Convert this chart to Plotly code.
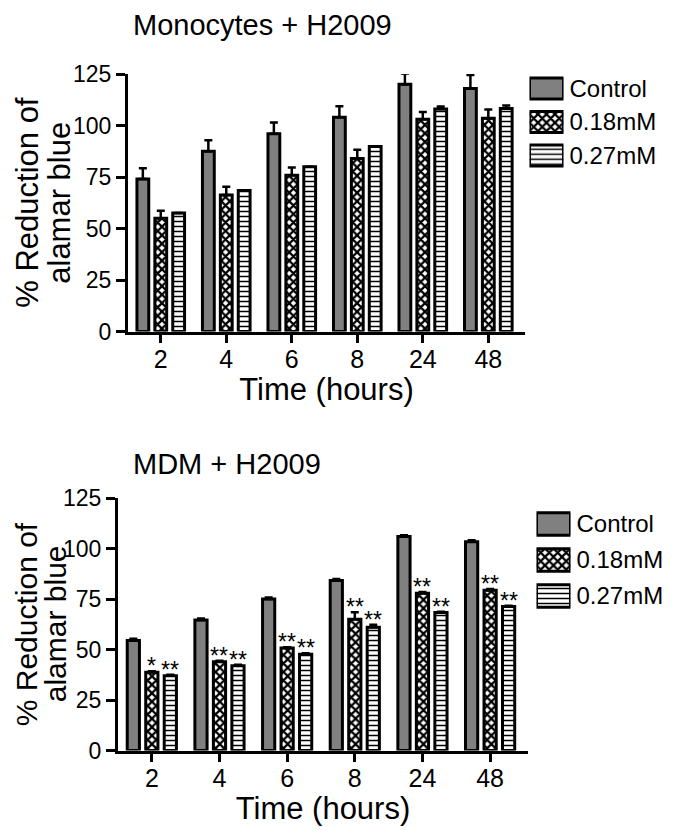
import plotly.graph_objects as go

# ---------------- data ----------------
times = ["2", "4", "6", "8", "24", "48"]
series_names = ["Control", "0.18mM", "0.27mM"]
y_ticks = [0, 25, 50, 75, 100, 125]

mono_control = [74.0, 87.5, 96.0, 104.0, 120.0, 118.0]
mono_control_err = [5.3, 5.3, 5.5, 5.3, 5.3, 6.5]
mono_018 = [55.0, 66.3, 75.8, 84.0, 103.0, 103.5]
mono_018_err = [3.6, 4.0, 3.8, 4.2, 3.5, 4.3]
mono_027 = [57.5, 68.5, 80.0, 89.8, 108.0, 108.2]
mono_027_err = [0.0, 0.0, 0.0, 0.0, 1.2, 1.5]

mdm_control = [54.5, 64.6, 75.0, 84.1, 105.9, 103.3]
mdm_control_err = [0.8, 0.8, 0.8, 0.8, 0.6, 0.8]
mdm_018 = [38.7, 43.9, 50.7, 65.0, 77.9, 79.3]
mdm_018_err = [0.5, 0.5, 0.4, 3.4, 0.6, 0.6]
mdm_027 = [37.0, 41.9, 47.6, 61.0, 68.3, 71.3]
mdm_027_err = [0.5, 0.5, 0.6, 1.3, 0.4, 0.4]
mdm_018_sig = ["*", "**", "**", "**", "**", "**"]
mdm_027_sig = ["**", "**", "**", "**", "**", "**"]

title_top = "Monocytes + H2009"
title_bottom = "MDM + H2009"
x_title = "Time (hours)"
y_title_lines = ["% Reduction of", "alamar blue"]

# ---------------- style ----------------
PAGE_W, PAGE_H = 675, 830
OFF = 8                      # page body margin around the plot div
W, H = PAGE_W - OFF, PAGE_H - OFF
FONT = "Liberation Sans, Arial, Helvetica, sans-serif"
BARGAP = 0.18
BARGROUPGAP = 0.34
fill_colors = ["#808080", "white", "white"]
pattern_shapes = ["", "x", "-"]
pattern_sizes = [6, 6, 5]
pattern_solid = [0.3, 0.6, 0.3]


def px_x(a):
    return (a - OFF) / W


def px_y(a):
    return (PAGE_H - a) / H


def dom_x(a, b):
    return [px_x(a), px_x(b)]


def dom_y(top, bottom):
    return [px_y(bottom), px_y(top)]


def marker_for(k):
    return dict(
        color=fill_colors[k],
        line=dict(color="black", width=3),
        pattern=dict(shape=pattern_shapes[k], fgcolor="black",
                     size=pattern_sizes[k], solidity=pattern_solid[k]),
    )


fig = go.Figure()

panels = [
    ("x", "y", [(mono_control, mono_control_err), (mono_018, mono_018_err), (mono_027, mono_027_err)]),
    ("x2", "y2", [(mdm_control, mdm_control_err), (mdm_018, mdm_018_err), (mdm_027, mdm_027_err)]),
]

for xa, ya, series in panels:
    for k, (vals, errs) in enumerate(series):
        fig.add_trace(go.Bar(
            x=times, y=vals, name=series_names[k], xaxis=xa, yaxis=ya,
            showlegend=False, marker=marker_for(k),
            error_y=dict(type="data", array=errs, arrayminus=[0] * len(errs),
                         symmetric=False, color="black", thickness=2.5, width=4),
        ))

# legend swatches: one bar per series on small dedicated axes
for xa, ya in [("x3", "y3"), ("x4", "y4")]:
    for k, name in enumerate(series_names):
        fig.add_trace(go.Bar(
            x=[1], y=[name], orientation="h", name=name,
            xaxis=xa, yaxis=ya, showlegend=False, width=0.62, offset=-0.31,
            marker=marker_for(k), hoverinfo="skip",
        ))

# significance stars (bottom panel)
slot = (1 - BARGAP) / 3
annotations = []
for k, (vals, errs, sig) in enumerate([(mdm_018, mdm_018_err, mdm_018_sig),
                                       (mdm_027, mdm_027_err, mdm_027_sig)], start=1):
    for i, s in enumerate(sig):
        annotations.append(dict(
            x=i + (k - 1) * slot, y=vals[i] + errs[i], xref="x2", yref="y2",
            text=s, showarrow=False, yanchor="bottom", xanchor="center",
            yshift=-10, font=dict(size=23, color="black", family=FONT),
        ))

for txt, ty in [(title_top, 25), (title_bottom, 464)]:
    annotations.append(dict(text=txt, x=px_x(131), y=px_y(ty), xref="paper", yref="paper",
                            xanchor="left", yanchor="middle", showarrow=False,
                            font=dict(size=29, color="black", family=FONT)))

# y-axis titles (two lines, rotated), centred on each panel
for cy, cxs, fs in [((74 + 331.5) / 2, [28, 60], 31), ((498 + 750.5) / 2, [26, 55], 30)]:
    for line, cx in zip(y_title_lines, cxs):
        annotations.append(dict(text=line, x=px_x(cx), y=px_y(cy), xref="paper", yref="paper",
                                xanchor="center", yanchor="middle", textangle=-90,
                                showarrow=False, font=dict(size=fs, color="black", family=FONT)))

xaxis_common = dict(
    type="category", categoryorder="array", categoryarray=times, automargin=False,
    range=[-0.5, 5.56], showline=True, linecolor="black", linewidth=3,
    ticks="outside", ticklen=8, tickwidth=3, tickcolor="black", ticklabelstandoff=-5,
    tickfont=dict(size=25, color="black", family=FONT),
    showgrid=False, zeroline=False,
    title=dict(text=x_title, font=dict(size=31, color="black", family=FONT), standoff=0),
)
yaxis_common = dict(
    range=[0, 125], tickvals=y_ticks, showline=True, linecolor="black", linewidth=3,
    ticks="outside", ticklen=9, tickwidth=3, tickcolor="black", automargin=False,
    tickfont=dict(size=23, color="black", family=FONT),
    showgrid=False, zeroline=False,
)
legend_x = dict(range=[0, 1], visible=False, fixedrange=True, automargin=False)
legend_y = dict(type="category", categoryorder="array", categoryarray=series_names,
                autorange="reversed", side="right", showline=False, ticks="",
                showgrid=False, zeroline=False, ticklabelstandoff=5, automargin=False,
                tickfont=dict(size=24, color="black", family=FONT))

fig.update_layout(
    template="none",
    width=W, height=H,
    margin=dict(l=0, r=0, t=0, b=0, pad=0),
    paper_bgcolor="white", plot_bgcolor="white",
    font=dict(family=FONT, color="black"),
    barmode="group", bargap=BARGAP, bargroupgap=BARGROUPGAP,
    xaxis=dict(xaxis_common, domain=dom_x(128, 525), anchor="y"),
    yaxis=dict(yaxis_common, domain=dom_y(74, 331.5), anchor="x"),
    xaxis2=dict(xaxis_common, domain=dom_x(118, 528), anchor="y2"),
    yaxis2=dict(yaxis_common, domain=dom_y(498, 750.5), anchor="x2"),
    xaxis3=dict(legend_x, domain=dom_x(529.5, 563.5), anchor="y3"),
    yaxis3=dict(legend_y, domain=dom_y(71.75, 172.25), anchor="x3"),
    xaxis4=dict(legend_x, domain=dom_x(536.5, 570.5), anchor="y4"),
    yaxis4=dict(legend_y, domain=dom_y(506, 614), anchor="x4"),
    annotations=annotations,
    showlegend=False,
)

fig.write_html("out.html")
